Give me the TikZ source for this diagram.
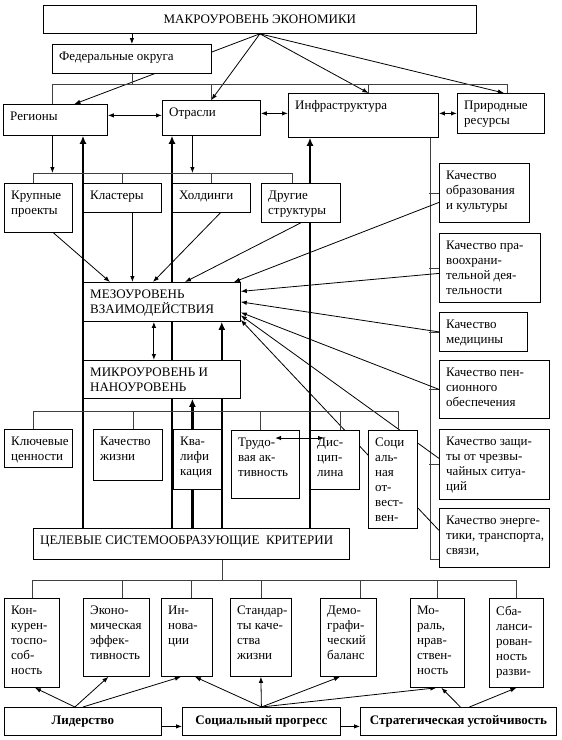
\documentclass[tikz,border=0pt]{standalone}
\usepackage{fontspec}
\setmainfont{Liberation Serif}
\usetikzlibrary{arrows.meta}
\pgfdeclarelayer{bg}
\pgfsetlayers{bg,main}

\begin{document}
\begin{tikzpicture}[
    x=1pt, y=-1pt,
    blk/.style 2 args={rectangle, draw=black, line width=0.8pt, fill=white, anchor=north west,
                  inner sep=0pt, minimum width=#1, minimum height=#2, font=\fontsize{13}{15}\selectfont},
    txt/.style={anchor=north west, align=left, inner xsep=7pt, inner ysep=7.5pt, font=\fontsize{13}{15}\selectfont},
    bus/.style={draw=black!75, line width=0.6pt},
    arrow/.style={-{Latex[length=6pt, width=4.5pt]}, line width=0.8pt},
    dblarrow/.style={{Latex[length=6pt, width=4.5pt]}-{Latex[length=6pt, width=4.5pt]}, line width=1pt},
    bigarrow/.style={-{Latex[length=8pt, width=7pt]}, line width=2.6pt}
]
    \useasboundingbox (0,0) rectangle (562,740);

    % === Macro level ===
    \node[blk={433}{28}] (mac) at (43,5) {МАКРОУРОВЕНЬ ЭКОНОМИКИ};
    \node[blk={159}{29}, label={[txt]north west:Федеральные округа}] (fed) at (52,44) {};
    \node[blk={104}{31}, label={[txt]north west:Регионы}] (reg) at (3,104) {};
    \node[blk={98}{35}, label={[txt]north west:Отрасли}] (otr) at (162,100) {};
    \node[blk={150}{44}, label={[txt]north west:Инфраструктура}] (inf) at (288,93) {};
    \node[blk={87}{40}, label={[txt]north west:Природные\\ресурсы}] (prir) at (457,93) {};

    % === Structures ===
    \node[blk={68}{49}, label={[txt]north west:Крупные\\проекты}] (krup) at (4,183) {};
    \node[blk={78}{29}, label={[txt]north west:Кластеры}] (klas) at (83,183) {};
    \node[blk={78}{29}, label={[txt]north west:Холдинги}] (hold) at (172,183) {};
    \node[blk={79}{39}, label={[txt]north west:Другие\\структуры}] (drug) at (261,183) {};

    % === Quality boxes (right column) ===
    \node[blk={90}{59}, label={[txt]north west:Качество\\образования\\и культуры}] (obr) at (439,163) {};
    \node[blk={101}{69}, label={[txt]north west:Качество пра-\\воохрани-\\тельной дея-\\тельности}] (prav) at (439,233) {};
    \node[blk={88}{39}, label={[txt]north west:Качество\\медицины}] (med) at (439,312) {};
    \node[blk={110}{58}, label={[txt]north west:Качество пен-\\сионного\\обеспечения}] (pens) at (439,360) {};
    \node[blk={110}{70}, label={[txt]north west:Качество защи-\\ты от чрезвы-\\чайных ситуа-\\ций}] (zasch) at (439,429) {};
    \node[blk={110}{59}, label={[txt]north west:Качество энерге-\\тики, транспорта,\\связи,}] (energ) at (439,508) {};

    % === Meso and micro level ===
    \node[blk={157}{39}, label={[txt]north west:МЕЗОУРОВЕНЬ\\ВЗАИМОДЕЙСТВИЯ}] (meso) at (83,282) {};
    \node[blk={157}{38}, label={[txt]north west:МИКРОУРОВЕНЬ И\\НАНОУРОВЕНЬ}] (micro) at (83,360) {};

    \node[blk={68}{38}, label={[txt]north west:Ключевые\\ценности}] (klyuch) at (4,429) {};
    \node[blk={69}{51}, label={[txt]north west:Качество\\жизни}] (kzh) at (93,429) {};
    \node[blk={48}{60}, label={[txt]north west:Ква-\\лифи\\кация}] (kval) at (173,429) {};
    \node[blk={68}{68}, label={[txt]north west:Трудо-\\вая ак-\\тивность}] (trud) at (231,430) {};
    \node[blk={49}{59}, label={[txt]north west:Дис-\\цип-\\лина}] (disc) at (310,430) {};
    \node[blk={49}{98}, label={[txt]north west:Соци\\аль-\\ная\\от-\\вест-\\вен-}] (socot) at (368,430) {};

    % === Criteria ===
    \node[blk={316}{31}, label={[txt]north west:ЦЕЛЕВЫЕ СИСТЕМООБРАЗУЮЩИЕ\ \ КРИТЕРИИ}] (crit) at (33,528) {};

    \node[blk={55}{89}, label={[txt]north west:Кон-\\курен-\\тоспо-\\соб-\\ность}] (kon) at (4,598) {};
    \node[blk={66}{78}, label={[txt]north west:Эконо-\\мическая\\эффек-\\тивность}] (ekon) at (83,598) {};
    \node[blk={51}{78}, label={[txt]north west:Ин-\\нова-\\ции}] (innov) at (161,598) {};
    \node[blk={61}{78}, label={[txt]north west:Стандар-\\ты каче-\\ства\\жизни}] (stand) at (230,598) {};
    \node[blk={56}{78}, label={[txt]north west:Демо-\\графи-\\ческий\\баланс}] (demo) at (320,598) {};
    \node[blk={54}{89}, label={[txt]north west:Мо-\\раль,\\нрав-\\ствен-\\ность}] (moral) at (410,598) {};
    \node[blk={54}{89}, label={[txt]north west:Сба-\\ланси-\\рован-\\ность\\разви-}] (sbal) at (489,598) {};

    % === Goals ===
    \node[blk={157}{28}, font=\fontsize{13}{15}\selectfont\bfseries] (lid) at (4,707) {Лидерство};
    \node[blk={158}{28}, font=\fontsize{13}{15}\selectfont\bfseries] (sprog) at (182,707) {Социальный прогресс};
    \node[blk={196}{28}, font=\fontsize{13}{15}\selectfont\bfseries] (strat) at (360,707) {Стратегическая устойчивость};

    \draw[dblarrow] ([xshift=44pt, yshift=-8pt]trud.north west) -- ([xshift=14pt, yshift=-8pt]disc.north west);

    \begin{pgfonlayer}{bg}
        \coordinate (b1) at (0,84);
        \coordinate (b2) at (0,173);
        \coordinate (b3) at (0,411);
        \coordinate (b4) at (0,580);

        % Macro level links
        \draw[arrow] (fed.north |- mac.south) -- (fed.north);
        \draw[arrow] (mac.south) -- ([xshift=19pt]reg.north);
        \draw[arrow] (mac.south) -- (otr.north);
        \draw[arrow] (mac.south) -- ([xshift=5pt]inf.north);
        \draw[arrow] (mac.south) -- ([xshift=3pt]prir.north);
        \draw[bus] (fed.south) -- (fed.south |- b1);
        \draw[bus] ([xshift=-3pt]reg.north) -- ([xshift=-3pt]reg.north |- b1)
            -- ([xshift=6pt]prir.north |- b1) -- ([xshift=6pt]prir.north);
        \draw[bus] (otr.north) -- (otr.north |- b1);
        \draw[bus] ([xshift=5pt]inf.north) -- ([xshift=5pt]inf.north |- b1);
        \draw[dblarrow] ([yshift=4.5pt]reg.east) -- ([yshift=2.5pt]otr.west);
        \draw[dblarrow] ([yshift=4.5pt]otr.east) -- ([yshift=2pt]inf.west);
        \draw[dblarrow] ([yshift=2pt]inf.east) -- (prir.west);

        % Thick arrows from the criteria
        \draw[bigarrow] (crit.north -| klas.west) -- (reg.south -| klas.west);
        \draw[bigarrow] (crit.north -| hold.west) -- (otr.south -| hold.west);
        \draw[bigarrow] (crit.north -| disc.west) -- (inf.south -| disc.west);
        \draw[bigarrow] (crit.north -| kval.east) -- (meso.south -| kval.east);
        \draw[bigarrow] ([xshift=-5pt]kval.north |- crit.north) -- ([xshift=-5pt]kval.north |- micro.south);

        % Structures
        \draw[arrow] ([xshift=-3pt]reg.south) -- ([xshift=-3pt]reg.south |- b2);
        \draw[arrow] ([xshift=-19pt]otr.south) -- ([xshift=-19pt]otr.south |- b2);
        \draw[bus] ([xshift=-5pt]krup.north) -- ([xshift=-5pt]krup.north |- b2)
            -- ([xshift=-9pt]drug.north |- b2) -- ([xshift=-9pt]drug.north);
        \draw[bus] (klas.north) -- (klas.north |- b2);
        \draw[bus] (hold.north) -- (hold.north |- b2);

        \draw[arrow] ([xshift=15pt]krup.south) -- ([xshift=27pt]meso.north west);
        \draw[arrow] ([xshift=10pt]klas.south) -- ([xshift=10pt]klas.south |- meso.north);
        \draw[arrow] ([xshift=9pt]hold.south) -- ([xshift=70pt]meso.north west);
        \draw[arrow] (drug.south) -- ([xshift=102pt]meso.north west);

        % Right column
        \draw[bus] ([xshift=-9pt]inf.south east) |- ([yshift=9pt]energ.south west);
        \foreach \n in {obr, prav, med, pens, zasch}
            \draw[bus] (\n.west) -- ++(-10,0);
        \draw[arrow] ([yshift=-9.5pt]obr.west) -- ([xshift=151pt]meso.north west);
        \draw[arrow] ([yshift=-5.5pt]prav.west) -- ([yshift=10.5pt]meso.east);
        \draw[arrow] (med.west) -- (meso.east);
        \draw[arrow] (pens.west) -- ([yshift=-10.5pt]meso.east);
        \draw[arrow] ([yshift=6pt]zasch.west) -- ([yshift=-13.5pt]meso.east);
        \draw[arrow] ([yshift=7.5pt]energ.west) -- ([yshift=-18pt]meso.east);

        % Micro level
        \draw[dblarrow] ([xshift=-8pt]meso.south) -- ([xshift=-8pt]micro.north);
        \draw[bus] ([xshift=-5pt]klyuch.north) -- ([xshift=-5pt]klyuch.north |- b3)
            -- ([xshift=5pt]socot.north |- b3) -- ([xshift=5pt]socot.north);
        \draw[bus] ([xshift=5pt]kzh.north) -- ([xshift=5pt]kzh.north |- b3);
        \draw[bus] ([xshift=-5pt]trud.north) -- ([xshift=-5pt]trud.north |- b3);
        \draw[bus] ([xshift=5pt]disc.north) -- ([xshift=5pt]disc.north |- b3);

        % Criteria
        \draw[bus] (crit.south -| kval.east) -- (kval.east |- b4);
        \draw[bus] (kon.north) -- (kon.north |- b4) -- (sbal.north |- b4) -- (sbal.north);
        \draw[bus] ([xshift=6pt]ekon.north) -- ([xshift=6pt]ekon.north |- b4);
        \draw[bus] ([xshift=4pt]innov.north) -- ([xshift=4pt]innov.north |- b4);
        \draw[bus] (stand.north) -- (stand.north |- b4);
        \draw[bus] ([xshift=12pt]demo.north) -- ([xshift=12pt]demo.north |- b4);
        \draw[bus] (moral.north) -- (moral.north |- b4);

        % Goals
        \draw[arrow] ([xshift=-8pt]lid.north) -- ([xshift=3pt]kon.south);
        \draw[arrow] ([xshift=-8pt]lid.north) -- ([xshift=-8pt]ekon.south);
        \draw[arrow] (lid.north) -- ([xshift=-6pt]innov.south);
        \draw[arrow] (sprog.north) -- ([xshift=8pt]innov.south);
        \draw[arrow] (sprog.north) -- (stand.south);
        \draw[arrow] (sprog.north) -- ([xshift=20pt]demo.south west);
        \draw[arrow] (sprog.north) -- ([xshift=-1pt]moral.south);
        \draw[arrow] ([xshift=2pt]strat.north) -- ([xshift=4pt]moral.south);
        \draw[arrow] ([xshift=11pt]strat.north) -- (sbal.south);
        \draw[arrow] ([yshift=-5pt]lid.east) -- ([yshift=-5pt]sprog.west);
        \draw[arrow] ([yshift=-5pt]sprog.east) -- ([yshift=-5pt]strat.west);
    \end{pgfonlayer}

\end{tikzpicture}
\end{document}
